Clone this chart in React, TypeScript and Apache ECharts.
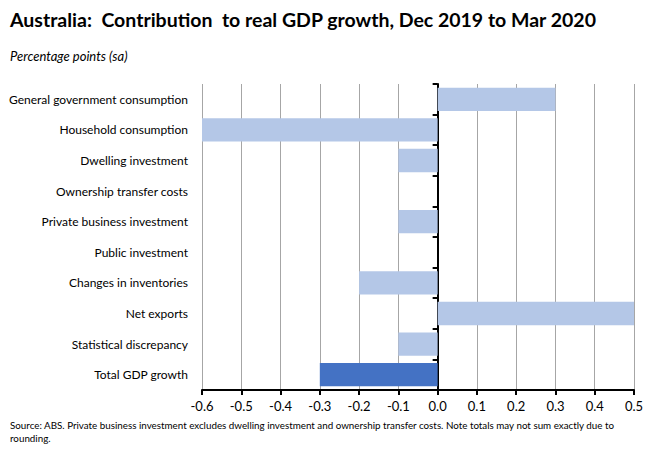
import * as echarts from 'echarts';
import { useEffect, useRef } from 'react';

const categories = [
  'General government consumption',
  'Household consumption',
  'Dwelling investment',
  'Ownership transfer costs',
  'Private business investment',
  'Public investment',
  'Changes in inventories',
  'Net exports',
  'Statistical discrepancy',
  'Total GDP growth',
];
const contributions = [0.3, -0.6, -0.1, 0, -0.1, 0, -0.2, 0.5, -0.1, -0.3];
const totalIndex = 9;

const FONT = 'Lato, "Open Sans", sans-serif';

export default function App() {
  const chartRef = useRef<HTMLDivElement>(null);

  useEffect(() => {
    if (!chartRef.current) return;
    const chart = echarts.init(chartRef.current, undefined, { renderer: 'svg' });

    chart.setOption({
      animation: false,
      textStyle: { fontFamily: FONT },
      grid: { left: 202, right: 16, top: 84, bottom: 65 },
      graphic: [
        {
          type: 'text',
          left: 10,
          top: 9,
          style: {
            text: 'Australia:  Contribution  to real GDP growth, Dec 2019 to Mar 2020',
            font: `bold 19.5px ${FONT}`,
            fill: '#000',
          },
        },
        {
          type: 'text',
          left: 10,
          top: 49,
          style: {
            text: 'Percentage points (sa)',
            font: `italic 13px ${FONT}`,
            fill: '#000',
          },
        },
        {
          type: 'text',
          left: 10,
          top: 418,
          style: {
            text: 'Source: ABS. Private business investment excludes dwelling investment and ownership transfer costs. Note totals may not sum exactly due to\nrounding.',
            font: `9.8px ${FONT}`,
            lineHeight: 13,
            fill: '#000',
          },
        },
      ],
      xAxis: {
        type: 'value',
        min: -0.6,
        max: 0.5,
        interval: 0.1,
        axisLine: { show: true, onZero: false, lineStyle: { color: '#000', width: 2 } },
        axisTick: { show: true, length: 5, lineStyle: { color: '#000', width: 2 } },
        axisLabel: {
          color: '#000',
          fontSize: 13,
          margin: 9,
          formatter: (v: number) => v.toFixed(1),
        },
        splitLine: { show: true, lineStyle: { color: '#a6a6a6', width: 1 } },
      },
      yAxis: [
        {
          type: 'category',
          data: categories,
          inverse: true,
          position: 'left',
          axisLine: { show: false, onZero: false },
          axisTick: { show: false },
          axisLabel: { color: '#000', fontSize: 12, margin: 14 },
        },
        {
          type: 'category',
          data: categories,
          inverse: true,
          position: 'left',
          axisLine: { show: true, onZero: true, lineStyle: { color: '#000', width: 2 } },
          axisTick: { show: true, length: 5, lineStyle: { color: '#000', width: 2 } },
          axisLabel: { show: false },
        },
      ],
      series: [
        {
          type: 'bar',
          yAxisIndex: 0,
          barCategoryGap: '24%',
          data: contributions.map((v, i) => ({
            value: v,
            itemStyle: { color: i === totalIndex ? '#4472c4' : '#b4c7e7' },
          })),
        },
      ],
    });

    return () => chart.dispose();
  }, []);

  return (
    <div
      ref={chartRef}
      style={{ position: 'fixed', left: 0, top: 0, width: 650, height: 455, background: '#fff' }}
    />
  );
}
